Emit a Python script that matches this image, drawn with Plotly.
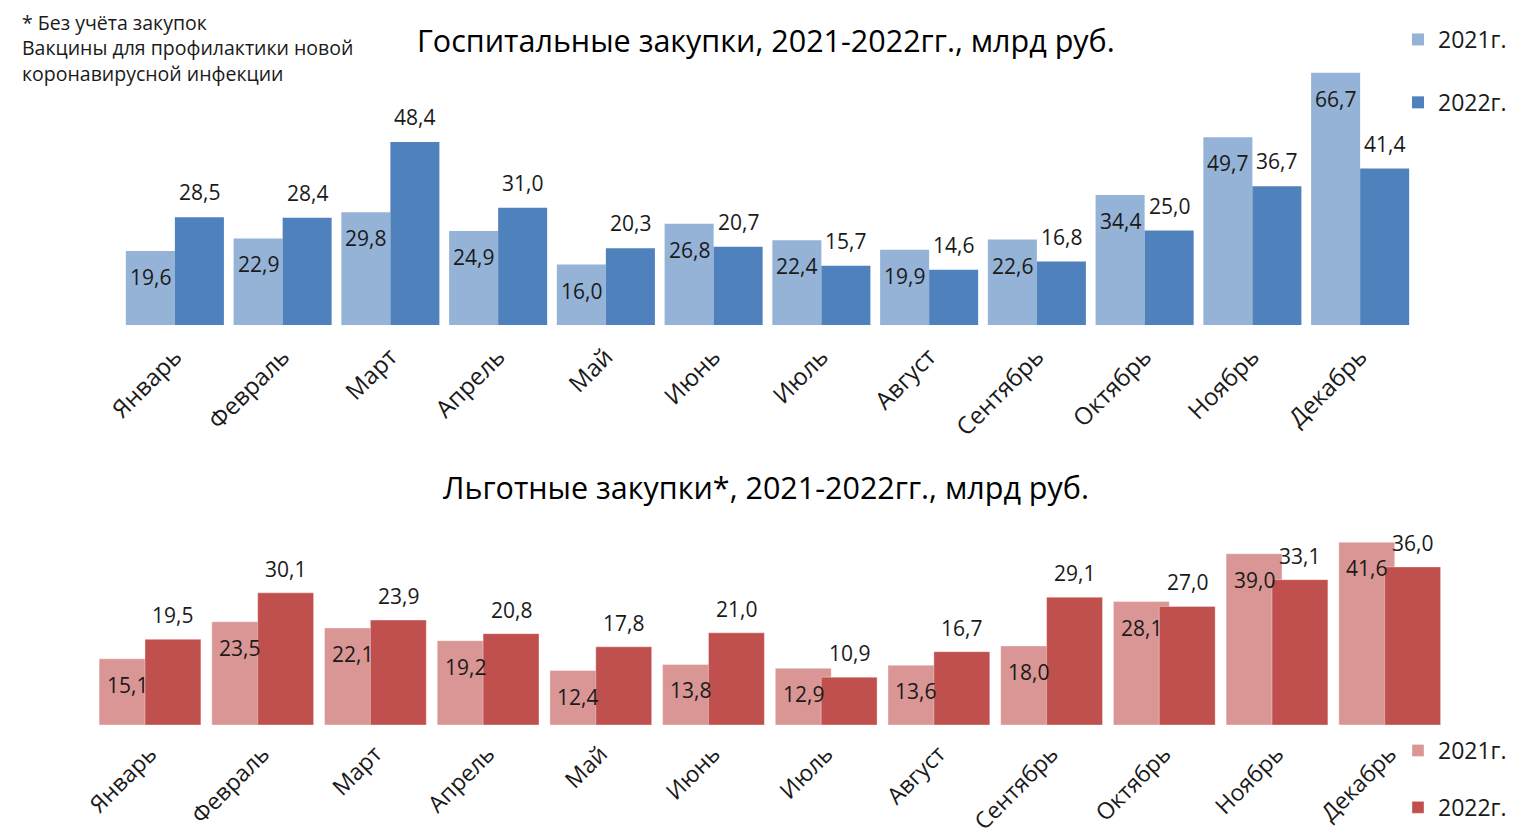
import plotly.graph_objects as go

months = ["Январь", "Февраль", "Март", "Апрель", "Май", "Июнь", "Июль",
          "Август", "Сентябрь", "Октябрь", "Ноябрь", "Декабрь"]
hosp_2021 = [19.6, 22.9, 29.8, 24.9, 16.0, 26.8, 22.4, 19.9, 22.6, 34.4, 49.7, 66.7]
hosp_2022 = [28.5, 28.4, 48.4, 31.0, 20.3, 20.7, 15.7, 14.6, 16.8, 25.0, 36.7, 41.4]
pref_2021 = [15.1, 23.5, 22.1, 19.2, 12.4, 13.8, 12.9, 13.6, 18.0, 28.1, 39.0, 41.6]
pref_2022 = [19.5, 30.1, 23.9, 20.8, 17.8, 21.0, 10.9, 16.7, 29.1, 27.0, 33.1, 36.0]
series_names = ["2021г.", "2022г."]

PAGE_OFF = 8  # default body margin of the html page
W, H = 1515 - PAGE_OFF, 836 - PAGE_OFF
FONT = "Open Sans"
TXT = "#1a1a1a"

def px_x(p):
    return (p - PAGE_OFF) / W

def px_y(p):
    return 1 - (p - PAGE_OFF) / H

idx = list(range(len(months)))

def fmt(v):
    return f"{v:.1f}".replace(".", ",")

fig = go.Figure()

# top chart
top_w = 0.455
top_off = [-0.455, 0.0]
top_cols = ["#95B3D7", "#4F81BD"]
for k, (vals, name) in enumerate(zip([hosp_2021, hosp_2022], series_names)):
    fig.add_trace(go.Bar(
        x=idx, y=vals, name=name, width=top_w, offset=top_off[k],
        marker=dict(color=top_cols[k], line=dict(width=0)),
        xaxis="x", yaxis="y", legend="legend", legendgroup=f"t{k}",
        hoverinfo="skip"))

# bottom chart
bot_w = 0.496
bot_off = [-0.451, -0.044]
bot_cols = ["#DA9694", "#C0504D"]
for k, (vals, name) in enumerate(zip([pref_2021, pref_2022], series_names)):
    fig.add_trace(go.Bar(
        x=idx, y=vals, name=name, width=bot_w, offset=bot_off[k],
        marker=dict(color=bot_cols[k], line=dict(width=1, color="rgba(255,255,255,0.35)")),
        xaxis="x2", yaxis="y2", legend="legend2", legendgroup=f"b{k}",
        hoverinfo="skip"))

annotations = []
LBL = 21
for vals, k in [(hosp_2021, 0), (hosp_2022, 1)]:
    for i, v in enumerate(vals):
        annotations.append(dict(
            x=i + top_off[k] + top_w / 2, y=v, xref="x", yref="y",
            text=fmt(v), showarrow=False, yanchor="middle",
            yshift=-26 if k == 0 else 25,
            font=dict(family=FONT, size=LBL, color=TXT)))
for vals, k in [(pref_2021, 0), (pref_2022, 1)]:
    for i, v in enumerate(vals):
        annotations.append(dict(
            x=i + bot_off[k] + bot_w / 2, y=v, xref="x2", yref="y2",
            text=fmt(v), showarrow=False, yanchor="middle",
            yshift=-26 if k == 0 else 24,
            font=dict(family=FONT, size=LBL, color=TXT)))

annotations.append(dict(
    x=px_x(766), y=px_y(40), xref="paper", yref="paper",
    text="Госпитальные закупки, 2021-2022гг., млрд руб.", showarrow=False,
    xanchor="center", yanchor="middle",
    font=dict(family=FONT, size=30.5, color="#000000")))
annotations.append(dict(
    x=px_x(766), y=px_y(487), xref="paper", yref="paper",
    text="Льготные закупки*, 2021-2022гг., млрд руб.", showarrow=False,
    xanchor="center", yanchor="middle",
    font=dict(family=FONT, size=30.5, color="#000000")))
annotations.append(dict(
    x=px_x(20), y=px_y(7), xref="paper", yref="paper",
    text="* Без учёта закупок<br>Вакцины для профилактики новой<br>коронавирусной инфекции",
    showarrow=False, xanchor="left", yanchor="top", align="left",
    font=dict(family=FONT, size=19.5, color=TXT)))

tick_font = dict(family=FONT, size=24, color=TXT)
tick_font2 = dict(family=FONT, size=23, color=TXT)

fig.update_layout(
    width=W, height=H,
    margin=dict(l=0, r=0, t=0, b=0, autoexpand=False),
    paper_bgcolor="white", plot_bgcolor="white",
    barmode="overlay",
    showlegend=True,
    annotations=annotations,
    xaxis=dict(domain=[px_x(121), px_x(1414)], range=[-0.5, 11.5],
               tickmode="array", tickvals=idx, ticktext=months, tickangle=-45,
               tickfont=tick_font, showgrid=False, zeroline=False, showline=False,
               ticks="", anchor="y", automargin=False, ticklabelstandoff=12),
    yaxis=dict(domain=[px_y(325), px_y(60.4)], range=[0, 70], visible=False,
               anchor="x", automargin=False),
    xaxis2=dict(domain=[px_x(93.6), px_x(1446)], range=[-0.5, 11.5],
                tickmode="array", tickvals=idx, ticktext=months, tickangle=-45,
                tickfont=tick_font2, showgrid=False, zeroline=False, showline=False,
                ticks="", anchor="y2", automargin=False, ticklabelstandoff=10),
    yaxis2=dict(domain=[px_y(725), px_y(527.4)], range=[0, 45], visible=False,
                anchor="x2", automargin=False),
    legend=dict(x=px_x(1398), y=px_y(18), xanchor="left", yanchor="top",
                font=dict(family=FONT, size=23, color=TXT),
                tracegroupgap=30, traceorder="grouped", bgcolor="rgba(0,0,0,0)"),
    legend2=dict(x=px_x(1398), y=px_y(729), xanchor="left", yanchor="top",
                 font=dict(family=FONT, size=23, color=TXT),
                 tracegroupgap=24, traceorder="grouped", bgcolor="rgba(0,0,0,0)"),
)

fig.write_html("out.html")
